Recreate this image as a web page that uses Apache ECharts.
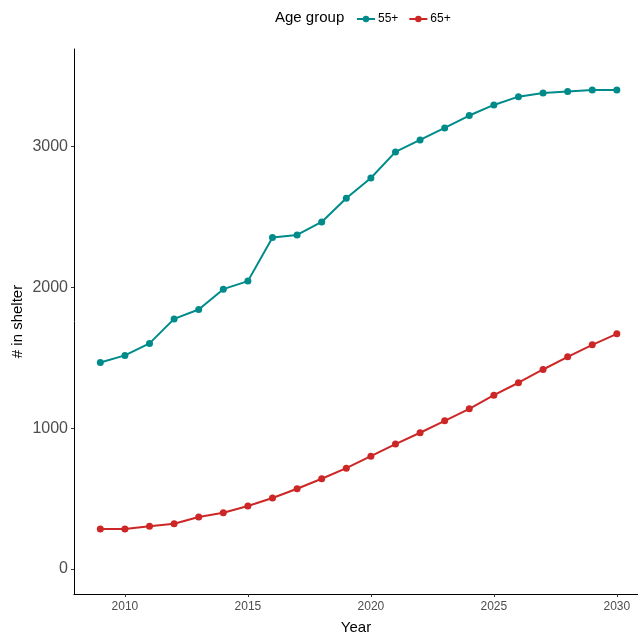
<!DOCTYPE html>
<html>
<head>
<meta charset="utf-8">
<script src="https://cdn.jsdelivr.net/npm/echarts@6/dist/echarts.min.js"></script>
<style>html,body{margin:0;padding:0;background:#fff;}#c{width:638px;height:636px;}</style>
</head>
<body>
<div id="c"></div>
<script>
const years = [2009,2010,2011,2012,2013,2014,2015,2016,2017,2018,2019,2020,2021,2022,2023,2024,2025,2026,2027,2028,2029,2030];
const age55 = [1466,1516,1601,1775,1842,1986,2043,2352,2371,2463,2631,2775,2960,3045,3130,3218,3293,3352,3378,3388,3399,3399];
const age65 = [284,284,303,321,369,399,447,504,570,641,716,801,887,967,1052,1137,1234,1322,1416,1506,1591,1669];
const xTicks = [2010,2015,2020,2025,2030];
const yTicks = [0,1000,2000,3000];
const seriesNames = ['55+','65+'];
const colors = ['#008B8B','#CD2626'];

const chart = echarts.init(document.getElementById('c'), null, {renderer:'canvas'});
const font = 'Liberation Sans, Arial, sans-serif';
chart.setOption({
  animation:false,
  backgroundColor:'#fff',
  graphic:[{type:'text', left:275, top:10, style:{text:'Age group', font:'15px Liberation Sans, Arial, sans-serif', fill:'#000'}}],
  legend:{
    left:351, top:8, itemWidth:18, itemHeight:8, itemGap:10,
    textStyle:{fontFamily:font, fontSize:12, color:'#000', padding:[0,0,0,-2]},
    data:seriesNames
  },
  grid:{left:74, right:0, top:49, bottom:42, containLabel:false, outerBoundsMode:'none'},
  xAxis:{
    type:'value', min:2007.93, max:2030.86,
    name:'Year', nameLocation:'middle', nameGap:26, nameMoveOverlap:false,
    nameTextStyle:{fontFamily:font, fontSize:15, color:'#000'},
    axisLine:{show:true, onZero:false, lineStyle:{color:'#000', width:1}},
    axisTick:{show:true, length:3, lineStyle:{color:'#333'}, customValues:xTicks},
    axisLabel:{fontFamily:font, fontSize:12, color:'#4D4D4D', margin:7, customValues:xTicks, formatter:v=>String(v)},
    splitLine:{show:false}
  },
  yAxis:{
    type:'value', min:-177, max:3690,
    name:'# in shelter', nameLocation:'middle', nameGap:49, nameRotate:90, nameMoveOverlap:false,
    nameTextStyle:{fontFamily:font, fontSize:15, color:'#000'},
    axisLine:{show:true, onZero:false, lineStyle:{color:'#000', width:1}},
    axisTick:{show:true, length:3, lineStyle:{color:'#333'}, customValues:yTicks},
    axisLabel:{fontFamily:font, fontSize:16, color:'#4D4D4D', margin:6, customValues:yTicks, formatter:v=>String(v)},
    splitLine:{show:false}
  },
  series:[
    {name:seriesNames[0], type:'line', data:years.map((y,i)=>[y,age55[i]]), symbol:'circle', symbolSize:7,
     lineStyle:{width:2, color:colors[0]}, itemStyle:{color:colors[0]}},
    {name:seriesNames[1], type:'line', data:years.map((y,i)=>[y,age65[i]]), symbol:'circle', symbolSize:7,
     lineStyle:{width:2, color:colors[1]}, itemStyle:{color:colors[1]}}
  ]
});
</script>
</body>
</html>
